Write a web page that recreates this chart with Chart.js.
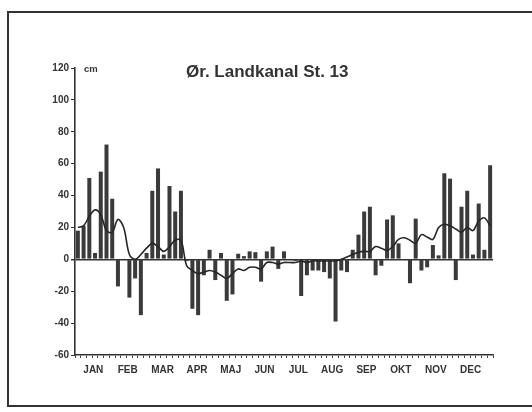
<!DOCTYPE html>
<html lang="da">
<head>
  <meta charset="UTF-8">
  <title>Ør. Landkanal St. 13</title>
  <script src="https://cdn.jsdelivr.net/npm/chart.js"></script>
  <style>
    body { margin: 0; background: #fff; }
    #wrap { position: relative; width: 532px; height: 412px; overflow: hidden; }
    #frame {
      position: absolute; left: 7px; top: 11px; width: 540px; height: 396px;
      border: 2px solid #333; box-sizing: border-box;
    }
    .lbl {
      position: absolute; font-family: 'Liberation Sans', Arial, sans-serif;
      font-weight: bold; color: #333; white-space: nowrap;
    }
    #title { left: 186px; top: 62px; font-size: 17px; }
    #unit { left: 84px; top: 63px; font-size: 9.5px; }
    canvas { position: absolute; left: 0; top: 0; }
  </style>
</head>
<body>
<div id="wrap">
  <div id="frame"></div>
  <canvas id="chart" width="532" height="412"></canvas>
  <div id="title" class="lbl">Ør. Landkanal St. 13</div>
  <div id="unit" class="lbl">cm</div>
</div>
<script>
  // 5-day periods through the year (73 periods)
  const waterLevel = [
    18, 21, 51, 4, 55, 72, 38, -17, 0, -24, -12, -35,
    4, 43, 57, 3, 46, 30, 43, -1, -31, -35, -10, 6,
    -13, 4, -26, -22, 3.5, 2, 5, 4.5, -14, 5, 8, -6,
    5, 0, -1, -23, -10, -7, -7, -8, -12, -39, -7, -8,
    6, 15.5, 30, 33, -10, -4, 25, 27.6, 10, 0, -15, 25.5,
    -7, -5, 9, 2.5, 54, 50.6, -13, 33, 43, 3, 35, 6, 59
  ];
  const runningMean = [
    20, 21, 27, 31, 28, 18, 17, 25, 20, 3, 0, 3,
    7, 10, 8, 5, 8, 12, 12, -4, -7, -9, -8, -7,
    -8, -10, -12, -9, -6, -7, -5, -5, -6, -2, -2, -3,
    -2, -2, -2, -1, -2, -1, -1, -1, -1, -1, 0, 1.5,
    3, 4.5, 5, 5, 8, 7, 5.6, 8, 12.5, 13.5, 12, 10,
    15.5, 14, 12.5, 20, 22, 21, 19, 17, 20, 18, 24, 26, 21
  ];
  const months = ['JAN', 'FEB', 'MAR', 'APR', 'MAJ', 'JUN', 'JUL', 'AUG', 'SEP', 'OKT', 'NOV', 'DEC'];
  const monthPos = [2.7, 8.7, 14.8, 20.8, 26.7, 32.6, 38.5, 44.4, 50.4, 56.4, 62.5, 68.6];
  const yTicks = [120, 100, 80, 60, 40, 20, 0, -20, -40, -60];

  const periods = waterLevel.map((v, i) => i);
  const font = { family: "'Liberation Sans', Arial, sans-serif", weight: 'bold' };

  new Chart(document.getElementById('chart'), {
    data: {
      labels: periods,
      datasets: [
        {
          type: 'line',
          data: runningMean,
          borderColor: '#262626',
          borderWidth: 1.6,
          pointRadius: 0,
          tension: 0.35,
          order: 0
        },
        {
          type: 'bar',
          data: waterLevel,
          backgroundColor: '#3a3a3a',
          barPercentage: 0.7,
          categoryPercentage: 1,
          order: 1
        }
      ]
    },
    options: {
      responsive: false,
      animation: false,
      layout: { padding: { left: 0, right: 39, top: 68, bottom: 31 } },
      plugins: { legend: { display: false }, tooltip: { enabled: false } },
      scales: {
        x: {
          type: 'category',
          position: 'bottom',
          weight: 0,
          offset: true,
          grid: { offset: true, drawOnChartArea: false, tickLength: 3, tickColor: '#444', lineWidth: 1 },
          border: { display: true, color: '#333', width: 1.5 },
          ticks: { display: false },
          afterFit: s => { s.height = 4; }
        },
        months: {
          type: 'linear',
          position: 'bottom',
          weight: 1,
          min: -0.5,
          max: 72.5,
          grid: { display: false, drawTicks: false, tickLength: 0 },
          border: { display: false },
          afterBuildTicks: s => { s.ticks = monthPos.map(v => ({ value: v })); },
          ticks: {
            autoSkip: false,
            maxRotation: 0,
            padding: 5,
            color: '#333',
            font: { ...font, size: 10 },
            callback: (v, i) => months[i]
          },
          afterFit: s => { s.height = 22; }
        },
        y: {
          min: -60,
          max: 120,
          afterBuildTicks: s => { s.ticks = yTicks.map(v => ({ value: v })); },
          grid: {
            drawOnChartArea: true,
            color: c => (c.tick && c.tick.value === 0 ? '#333' : 'rgba(0,0,0,0)'),
            lineWidth: c => (c.tick && c.tick.value === 0 ? 1.5 : 1),
            tickColor: '#333',
            tickLength: 4
          },
          border: { display: true, color: '#333', width: 1.6 },
          ticks: { padding: 2, color: '#333', font: { ...font, size: 10 } },
          afterFit: s => { s.width = 75; }
        }
      }
    }
  });
</script>
</body>
</html>
